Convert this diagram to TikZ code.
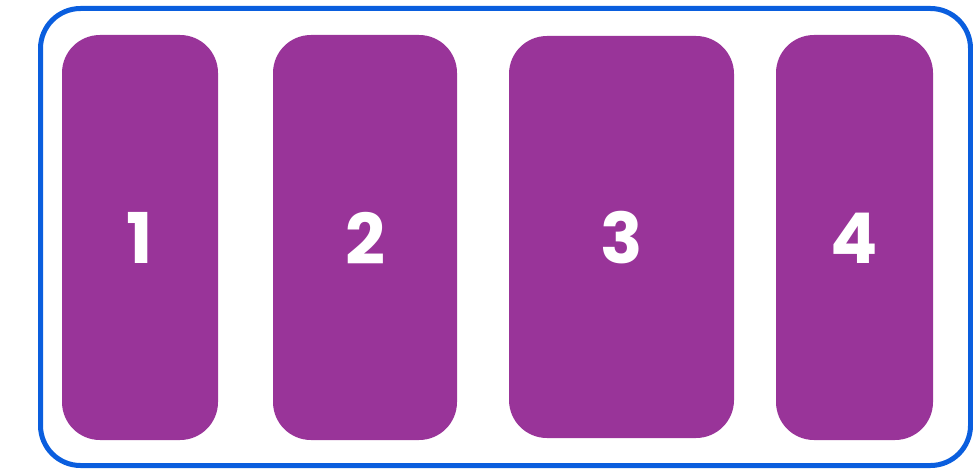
\documentclass[tikz,border=0pt]{standalone}
\usepackage{fontspec}
\setmainfont{Poppins}
\definecolor{cardpurple}{RGB}{153,52,153}
\definecolor{frameblue}{RGB}{10,94,222}
\begin{document}
\begin{tikzpicture}[x=1pt,y=-1pt,
  card/.style={fill=cardpurple, draw=none, rounded corners=38pt},
  cardlabel/.style={text=white, font=\fontsize{70}{70}\selectfont\bfseries, inner sep=0pt},
  frame/.style={draw=frameblue, line width=5pt, rounded corners=40pt}]
\useasboundingbox (0,0) rectangle (973,468);
\draw[frame] (40.5,8.5) rectangle (970.5,465.5);
\path[card] (62,35) rectangle (218,440);
\path[card] (273,35) rectangle (457,440);
\path[card] (509,36) rectangle (734,438);
\path[card] (776,35) rectangle (933,440);
\node[cardlabel] (n1) at (140,238) {1};
\node[cardlabel] (n2) at (365,238) {2};
\node[cardlabel] (n3) at (621.5,238) {3};
\node[cardlabel] (n4) at (854.5,238) {4};
\end{tikzpicture}
\end{document}
